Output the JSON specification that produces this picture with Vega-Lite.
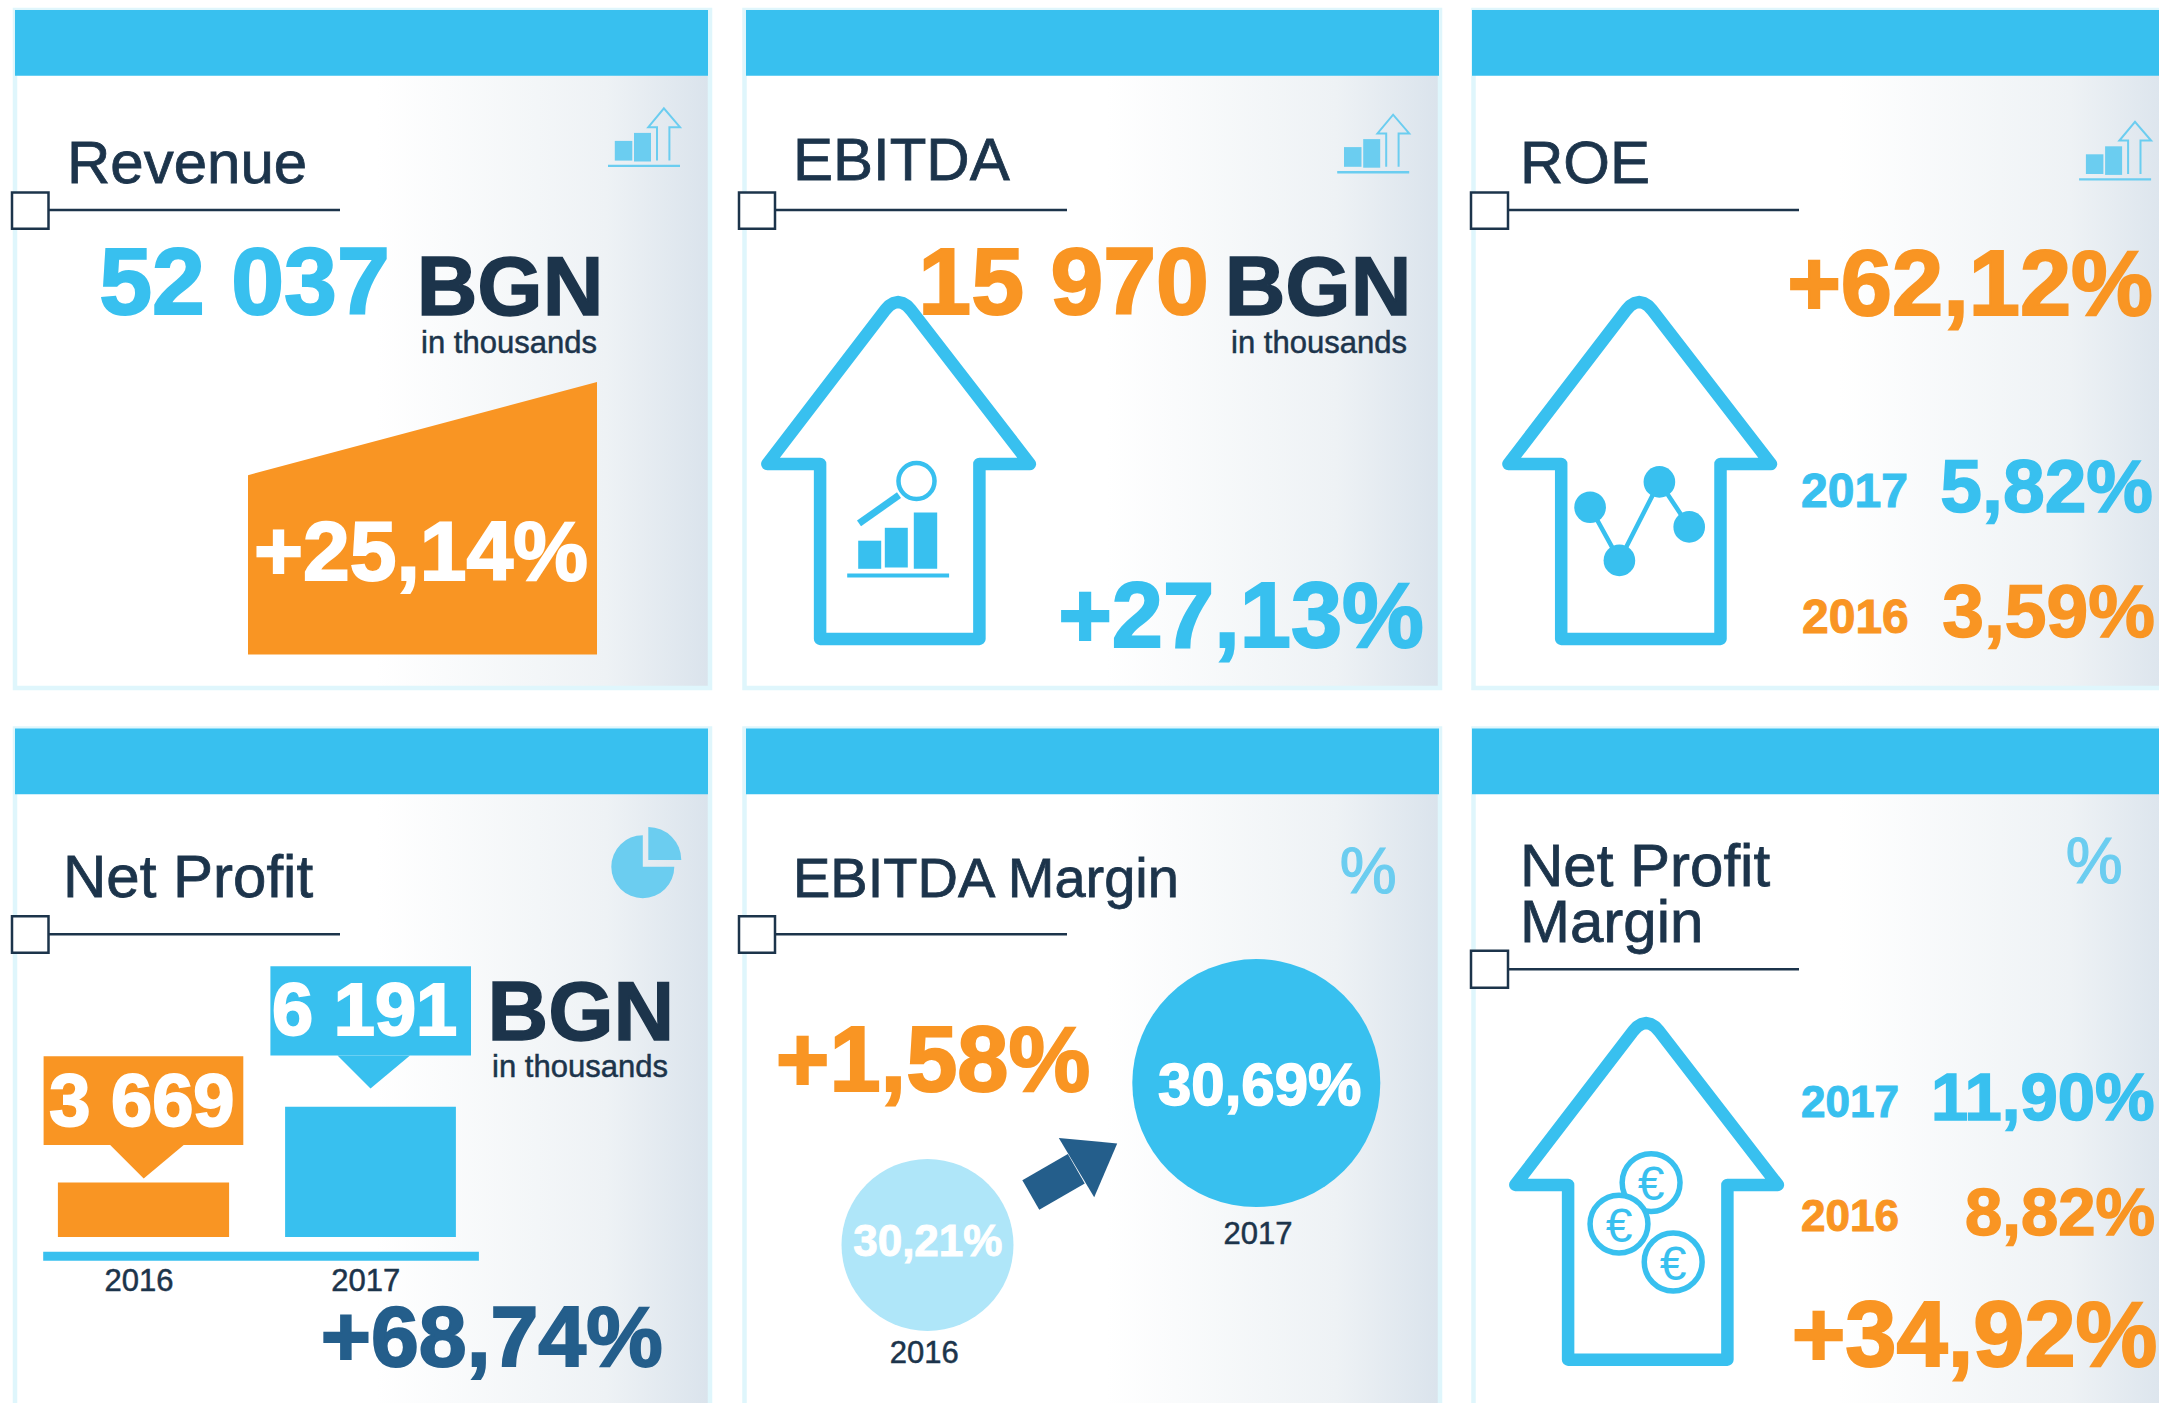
{"$schema":"https://vega.github.io/schema/vega-lite/v6.json","width":2159,"height":1403,"padding":0,"autosize":{"type":"fit","contains":"padding"},"background":"#ffffff","config":{"view":{"stroke":null},"text":{"font":"Liberation Sans"}},
"encoding":{"x":{"field":"x","type":"quantitative","scale":{"domain":[0,2159],"nice":false,"zero":false},"axis":null},"y":{"field":"y","type":"quantitative","scale":{"domain":[1403,0],"nice":false,"zero":false},"axis":null}},
"layer":[
{"data":{"values":[{"panel":"Revenue","x":15,"x2":710,"y":10,"y2":688},{"panel":"EBITDA","x":744.5,"x2":1440,"y":10,"y2":688},{"panel":"ROE","x":1473.5,"x2":2175,"y":10,"y2":688},{"panel":"Net Profit","x":15,"x2":710,"y":728.5,"y2":1425},{"panel":"EBITDA Margin","x":744.5,"x2":1440,"y":728.5,"y2":1425},{"panel":"Net Profit Margin","x":1473.5,"x2":2175,"y":728.5,"y2":1425}]},"mark":{"type":"rect","clip":true,"stroke":"#dff6fc","strokeWidth":4.5,"fill":{"gradient":"linear","x1":0,"y1":0,"x2":1,"y2":0,"stops":[{"offset":0,"color":"#ffffff"},{"offset":0.52,"color":"#ffffff"},{"offset":0.85,"color":"#eef2f5"},{"offset":1,"color":"#dae3ec"}]}},"encoding":{"x2":{"field":"x2"},"y2":{"field":"y2"}}},
{"data":{"values":[{"x":15,"x2":708,"y":10,"y2":75.8},{"x":746,"x2":1439,"y":10,"y2":75.8},{"x":1472,"x2":2175,"y":10,"y2":75.8},{"x":15,"x2":708,"y":728.5,"y2":794.3},{"x":746,"x2":1439,"y":728.5,"y2":794.3},{"x":1472,"x2":2175,"y":728.5,"y2":794.3},{"item":"6 191 box","x":270.4,"x2":471,"y":966.2,"y2":1055.4},{"item":"2017 bar","x":285.1,"x2":455.9,"y":1106.7,"y2":1237},{"item":"axis","x":43.2,"x2":478.9,"y":1251.7,"y2":1260.8},{"x":858.2,"x2":881.2,"y":540.7,"y2":568.8},{"x":884.8,"x2":907.8,"y":527.8,"y2":567.5},{"x":913.8,"x2":937.2,"y":512.6,"y2":568.8},{"x":847.2,"x2":949.1,"y":573.6,"y2":577.5}]},"mark":{"type":"rect","clip":true,"fill":"#38c0ef"},"encoding":{"x2":{"field":"x2"},"y2":{"field":"y2"}}},
{"data":{"values":[{"item":"3 669 box","x":43.6,"x2":243.3,"y":1056.3,"y2":1145.1},{"item":"2016 bar","x":57.9,"x2":229.1,"y":1182.6,"y2":1237}]},"mark":{"type":"rect","fill":"#f99523"},"encoding":{"x2":{"field":"x2"},"y2":{"field":"y2"}}},
{"data":{"values":[{"id":"rev","x":248,"y":475.2,"y2":654.4},{"id":"rev","x":597,"y":381.9,"y2":654.4},{"id":"a","x":110.2,"y":1145.1,"y2":1145.1},{"id":"a","x":143.7,"y":1145.1,"y2":1178.6},{"id":"a","x":183.7,"y":1145.1,"y2":1145.1}]},"mark":{"type":"area","fill":"#f99523","line":false},"encoding":{"y2":{"field":"y2"},"detail":{"field":"id"}}},
{"data":{"values":[{"id":"b","x":337.5,"y":1055.4,"y2":1055.4},{"id":"b","x":370.5,"y":1055.4,"y2":1088.5},{"id":"b","x":410,"y":1055.4,"y2":1055.4}]},"mark":{"type":"area","fill":"#38c0ef"},"encoding":{"y2":{"field":"y2"},"detail":{"field":"id"}}},
{"data":{"values":[{"id":"h","x":1058.8,"y":1138,"y2":1138},{"id":"h","x":1094.2,"y":1141.2,"y2":1197.3},{"id":"h","x":1117.2,"y":1143.4,"y2":1143.4}]},"mark":{"type":"area","fill":"#245e8b"},"encoding":{"y2":{"field":"y2"},"detail":{"field":"id"}}},
{"data":{"values":[{"x":1030.8,"x2":1076.3,"y":1194.9,"y2":1168.8}]},"mark":{"type":"rule","stroke":"#245e8b","strokeWidth":34},"encoding":{"x2":{"field":"x2"},"y2":{"field":"y2"}}},
{"data":{"values":[{"id":"e","o":1,"x":885.2,"y":310},{"id":"e","o":2,"x":889.1,"y":305.8},{"id":"e","o":3,"x":893.6,"y":303},{"id":"e","o":4,"x":898.1,"y":302},{"id":"e","o":5,"x":902.6,"y":303},{"id":"e","o":6,"x":907.1,"y":305.8},{"id":"e","o":7,"x":911,"y":310},{"id":"e","o":8,"x":1029.9,"y":464},{"id":"e","o":9,"x":979.4,"y":464},{"id":"e","o":10,"x":979.4,"y":638.9},{"id":"e","o":11,"x":820.1,"y":638.9},{"id":"e","o":12,"x":820.1,"y":464},{"id":"e","o":13,"x":767.3,"y":464},{"id":"e","o":14,"x":885.2,"y":310},
{"id":"r","o":1,"x":1626.3,"y":310},{"id":"r","o":2,"x":1630.2,"y":305.8},{"id":"r","o":3,"x":1634.7,"y":303},{"id":"r","o":4,"x":1639.2,"y":302},{"id":"r","o":5,"x":1643.7,"y":303},{"id":"r","o":6,"x":1648.2,"y":305.8},{"id":"r","o":7,"x":1652.1,"y":310},{"id":"r","o":8,"x":1771,"y":464},{"id":"r","o":9,"x":1720.5,"y":464},{"id":"r","o":10,"x":1720.5,"y":638.9},{"id":"r","o":11,"x":1561.2,"y":638.9},{"id":"r","o":12,"x":1561.2,"y":464},{"id":"r","o":13,"x":1508.4,"y":464},{"id":"r","o":14,"x":1626.3,"y":310},
{"id":"n","o":1,"x":1633.2,"y":1031},{"id":"n","o":2,"x":1637.1,"y":1026.8},{"id":"n","o":3,"x":1641.6,"y":1024},{"id":"n","o":4,"x":1646.1,"y":1023},{"id":"n","o":5,"x":1650.6,"y":1024},{"id":"n","o":6,"x":1655.1,"y":1026.8},{"id":"n","o":7,"x":1659,"y":1031},{"id":"n","o":8,"x":1777.9,"y":1184.9},{"id":"n","o":9,"x":1727.4,"y":1184.9},{"id":"n","o":10,"x":1727.4,"y":1359.7},{"id":"n","o":11,"x":1568.1,"y":1359.7},{"id":"n","o":12,"x":1568.1,"y":1184.9},{"id":"n","o":13,"x":1515.3,"y":1184.9},{"id":"n","o":14,"x":1633.2,"y":1031}]},"mark":{"type":"line","stroke":"#38c0ef","strokeWidth":12.5,"strokeJoin":"round","strokeCap":"round"},"encoding":{"detail":{"field":"id"},"order":{"field":"o"}}},
{"data":{"values":[{"x":899,"x2":859,"y":495.2,"y2":523.4}]},"mark":{"type":"rule","stroke":"#38c0ef","strokeWidth":7},"encoding":{"x2":{"field":"x2"},"y2":{"field":"y2"}}},
{"data":{"values":[{"x":916.5,"y":481}]},"mark":{"type":"point","shape":"circle","size":1300,"fill":"#ffffff","filled":true,"stroke":"#38c0ef","strokeWidth":4.5,"opacity":1}},
{"data":{"values":[{"o":1,"x":1590.1,"y":507.2},{"o":2,"x":1619.4,"y":560.4},{"o":3,"x":1659.4,"y":481.9},{"o":4,"x":1689.2,"y":526.9}]},"mark":{"type":"line","stroke":"#38c0ef","strokeWidth":4.5},"encoding":{"order":{"field":"o"}}},
{"data":{"values":[{"x":1590.1,"y":507.2},{"x":1619.4,"y":560.4},{"x":1659.4,"y":481.9},{"x":1689.2,"y":526.9}]},"mark":{"type":"point","shape":"circle","size":1000,"filled":true,"fill":"#38c0ef","opacity":1}},
{"data":{"values":[{"x":1651.1,"y":1182.6},{"x":1619,"y":1224.1},{"x":1673.2,"y":1262}]},"mark":{"type":"point","shape":"circle","size":3350,"fill":"#ffffff","filled":true,"stroke":"#38c0ef","strokeWidth":5.5,"opacity":1}},
{"data":{"values":[{"t":"€","x":1651.1,"y":1200.1},{"t":"€","x":1619,"y":1241.6},{"t":"€","x":1673.2,"y":1279.5}]},"mark":{"type":"text","fontSize":48,"align":"center","baseline":"alphabetic","fill":"#38c0ef","font":"Liberation Sans"},"encoding":{"text":{"field":"t"}}},
{"data":{"values":[{"x":1256.3,"y":1083.1}]},"mark":{"type":"point","shape":"circle","size":61504,"filled":true,"fill":"#38c0ef","opacity":1}},
{"data":{"values":[{"x":927.5,"y":1245}]},"mark":{"type":"point","shape":"circle","size":29584,"filled":true,"fill":"#afe6f9","opacity":1}},
{"data":{"values":[{"x":614.8,"x2":632.3,"y":140.9,"y2":160.6},{"x":634,"x2":651,"y":132.9,"y2":161.5},{"x":608,"x2":680,"y":164.8,"y2":167.1},{"x":1344,"x2":1361.5,"y":147.1,"y2":166.8},{"x":1363.2,"x2":1380.2,"y":139.1,"y2":167.7},{"x":1337.2,"x2":1409.2,"y":171,"y2":173.4},{"x":2085.9,"x2":2103.4,"y":154.3,"y2":174},{"x":2105.1,"x2":2122.1,"y":146.3,"y2":174.9},{"x":2079.1,"x2":2151.1,"y":178.2,"y2":180.5}]},"mark":{"type":"rect","fill":"#6bcdf0"},"encoding":{"x2":{"field":"x2"},"y2":{"field":"y2"}}},
{"data":{"values":[{"id":1,"o":1,"x":657,"y":160.6},{"id":1,"o":2,"x":657,"y":127.2},{"id":1,"o":3,"x":648.3,"y":127.2},{"id":1,"o":4,"x":663.9,"y":108.4},{"id":1,"o":5,"x":680,"y":127.2},{"id":1,"o":6,"x":669.4,"y":127.2},{"id":1,"o":7,"x":669.4,"y":160.6},{"id":2,"o":1,"x":1386.2,"y":166.8},{"id":2,"o":2,"x":1386.2,"y":133.4},{"id":2,"o":3,"x":1377.5,"y":133.4},{"id":2,"o":4,"x":1393.1,"y":114.7},{"id":2,"o":5,"x":1409.2,"y":133.4},{"id":2,"o":6,"x":1398.6,"y":133.4},{"id":2,"o":7,"x":1398.6,"y":166.8},{"id":3,"o":1,"x":2128.1,"y":174},{"id":3,"o":2,"x":2128.1,"y":140.6},{"id":3,"o":3,"x":2119.4,"y":140.6},{"id":3,"o":4,"x":2135,"y":121.9},{"id":3,"o":5,"x":2151.1,"y":140.6},{"id":3,"o":6,"x":2140.5,"y":140.6},{"id":3,"o":7,"x":2140.5,"y":174}]},"mark":{"type":"line","stroke":"#6bcdf0","strokeWidth":2},"encoding":{"detail":{"field":"id"},"order":{"field":"o"}}},
{"data":{"values":[{"x":642.8,"y":866.7}]},"mark":{"type":"arc","theta":1.5708,"theta2":6.2832,"innerRadius":0,"outerRadius":31.5,"fill":"#6bcdf0"}},
{"data":{"values":[{"x":648.3,"y":860}]},"mark":{"type":"arc","theta":0,"theta2":1.5708,"innerRadius":0,"outerRadius":33,"fill":"#6bcdf0"}},
{"data":{"values":[{"t":"%","x":1368.3,"y":873.8},{"t":"%","x":2094.2,"y":863.6}]},"mark":{"type":"text","fontSize":64,"align":"center","baseline":"middle","fill":"#6bcdf0","stroke":"#6bcdf0","strokeWidth":1.2,"font":"Liberation Sans"},"encoding":{"text":{"field":"t"}}},
{"data":{"values":[{"x":48,"x2":340,"y":209.9,"y2":209.9},{"x":775,"x2":1067,"y":209.9,"y2":209.9},{"x":1508,"x2":1799,"y":209.9,"y2":209.9},{"x":48,"x2":340,"y":934.3,"y2":934.3},{"x":775,"x2":1067,"y":934.3,"y2":934.3},{"x":1508,"x2":1799,"y":969.3,"y2":969.3}]},"mark":{"type":"rule","stroke":"#1c344b","strokeWidth":2.5},"encoding":{"x2":{"field":"x2"},"y2":{"field":"y2"}}},
{"data":{"values":[{"x":12,"x2":48.5,"y":192.4,"y2":228.8},{"x":739,"x2":775,"y":192.4,"y2":228.8},{"x":1471,"x2":1508,"y":192.4,"y2":228.8},{"x":12,"x2":48.5,"y":916.3,"y2":952.7},{"x":739,"x2":775,"y":916.3,"y2":952.7},{"x":1471,"x2":1508,"y":950.8,"y2":987.7}]},"mark":{"type":"rect","fill":"#ffffff","stroke":"#1c344b","strokeWidth":2.5},"encoding":{"x2":{"field":"x2"},"y2":{"field":"y2"}}},
{"data":{"values":[{"t":"Revenue","x":67,"y":182.7},{"t":"EBITDA","x":793,"y":179.8},{"t":"ROE","x":1520,"y":182.7},{"t":"Net Profit","x":63,"y":897.4},{"t":"Net Profit","x":1520,"y":885.7},{"t":"Margin","x":1520,"y":942}]},"mark":{"type":"text","fontSize":60,"align":"left","baseline":"alphabetic","fill":"#1c344b","stroke":"#1c344b","strokeWidth":0.8,"font":"Liberation Sans"},"encoding":{"text":{"field":"t"}}},
{"data":{"values":[{"t":"EBITDA Margin","x":793,"y":897.4}]},"mark":{"type":"text","fontSize":56,"align":"left","baseline":"alphabetic","fill":"#1c344b","stroke":"#1c344b","strokeWidth":0.8,"font":"Liberation Sans"},"encoding":{"text":{"field":"t"}}},
{"data":{"values":[{"t":"in thousands","x":509,"y":352.7},{"t":"in thousands","x":1319,"y":352.7},{"t":"in thousands","x":580,"y":1076.9},{"t":"2016","x":139,"y":1290.9},{"t":"2017","x":365.7,"y":1290.9},{"t":"2017","x":1258,"y":1244.2},{"t":"2016","x":924.3,"y":1363.3}]},"mark":{"type":"text","fontSize":31,"align":"center","baseline":"alphabetic","fill":"#1c344b","stroke":"#1c344b","strokeWidth":0.5,"font":"Liberation Sans"},"encoding":{"text":{"field":"t"}}},
{"data":{"values":[{"t":"BGN","x":510,"y":314.8},{"t":"BGN","x":1318,"y":314.8},{"t":"BGN","x":580.8,"y":1039.8}]},"mark":{"type":"text","fontSize":84,"fontWeight":"bold","align":"center","baseline":"alphabetic","fill":"#1c344b","stroke":"#1c344b","strokeWidth":1.5,"font":"Liberation Sans"},"encoding":{"text":{"field":"t"}}},
{"data":{"values":[{"t":"52 037","x":244.5,"y":313.9}]},"mark":{"type":"text","fontSize":95,"fontWeight":"bold","align":"center","baseline":"alphabetic","fill":"#38c0ef","stroke":"#38c0ef","strokeWidth":2,"font":"Liberation Sans"},"encoding":{"text":{"field":"t"}}},
{"data":{"values":[{"t":"15 970","x":1063.6,"y":313.9}]},"mark":{"type":"text","fontSize":95,"fontWeight":"bold","align":"center","baseline":"alphabetic","fill":"#f99523","stroke":"#f99523","strokeWidth":2,"font":"Liberation Sans"},"encoding":{"text":{"field":"t"}}},
{"data":{"values":[{"t":"+25,14%","x":421,"y":580.1}]},"mark":{"type":"text","fontSize":84,"fontWeight":"bold","align":"center","baseline":"alphabetic","fill":"#ffffff","stroke":"#ffffff","strokeWidth":2,"font":"Liberation Sans"},"encoding":{"text":{"field":"t"}}},
{"data":{"values":[{"t":"+27,13%","x":1241,"y":647.2}]},"mark":{"type":"text","fontSize":92,"fontWeight":"bold","align":"center","baseline":"alphabetic","fill":"#38c0ef","stroke":"#38c0ef","strokeWidth":2,"font":"Liberation Sans"},"encoding":{"text":{"field":"t"}}},
{"data":{"values":[{"t":"+62,12%","x":1970,"y":314.5},{"t":"+1,58%","x":933,"y":1091.1},{"t":"+34,92%","x":1974.5,"y":1365.5}]},"mark":{"type":"text","fontSize":92,"fontWeight":"bold","align":"center","baseline":"alphabetic","fill":"#f99523","stroke":"#f99523","strokeWidth":2,"font":"Liberation Sans"},"encoding":{"text":{"field":"t"}}},
{"data":{"values":[{"t":"+68,74%","x":491.7,"y":1365.5}]},"mark":{"type":"text","fontSize":86,"fontWeight":"bold","align":"center","baseline":"alphabetic","fill":"#245e8b","stroke":"#245e8b","strokeWidth":2,"font":"Liberation Sans"},"encoding":{"text":{"field":"t"}}},
{"data":{"values":[{"t":"5,82%","x":2046.7,"y":512.1}]},"mark":{"type":"text","fontSize":75,"fontWeight":"bold","align":"center","baseline":"alphabetic","fill":"#38c0ef","stroke":"#38c0ef","strokeWidth":1.5,"font":"Liberation Sans"},"encoding":{"text":{"field":"t"}}},
{"data":{"values":[{"t":"3,59%","x":2048.5,"y":637}]},"mark":{"type":"text","fontSize":75,"fontWeight":"bold","align":"center","baseline":"alphabetic","fill":"#f99523","stroke":"#f99523","strokeWidth":1.5,"font":"Liberation Sans"},"encoding":{"text":{"field":"t"}}},
{"data":{"values":[{"t":"11,90%","x":2042.8,"y":1120.2}]},"mark":{"type":"text","fontSize":67,"fontWeight":"bold","align":"center","baseline":"alphabetic","fill":"#38c0ef","stroke":"#38c0ef","strokeWidth":1.5,"font":"Liberation Sans"},"encoding":{"text":{"field":"t"}}},
{"data":{"values":[{"t":"8,82%","x":2060,"y":1234.8}]},"mark":{"type":"text","fontSize":67,"fontWeight":"bold","align":"center","baseline":"alphabetic","fill":"#f99523","stroke":"#f99523","strokeWidth":1.5,"font":"Liberation Sans"},"encoding":{"text":{"field":"t"}}},
{"data":{"values":[{"t":"3 669","x":141.9,"y":1126},{"t":"6 191","x":364.6,"y":1035.3}]},"mark":{"type":"text","fontSize":74,"fontWeight":"bold","align":"center","baseline":"alphabetic","fill":"#ffffff","stroke":"#ffffff","strokeWidth":2,"font":"Liberation Sans"},"encoding":{"text":{"field":"t"}}},
{"data":{"values":[{"t":"30,69%","x":1259.7,"y":1104.5}]},"mark":{"type":"text","fontSize":60,"fontWeight":"bold","align":"center","baseline":"alphabetic","fill":"#ffffff","stroke":"#ffffff","strokeWidth":1.5,"font":"Liberation Sans"},"encoding":{"text":{"field":"t"}}},
{"data":{"values":[{"t":"30,21%","x":927.8,"y":1256.2}]},"mark":{"type":"text","fontSize":44,"fontWeight":"bold","align":"center","baseline":"alphabetic","fill":"#ffffff","stroke":"#ffffff","strokeWidth":1,"font":"Liberation Sans"},"encoding":{"text":{"field":"t"}}},
{"data":{"values":[{"t":"2017","x":1854.5,"y":507.2}]},"mark":{"type":"text","fontSize":48,"fontWeight":"bold","align":"center","baseline":"alphabetic","fill":"#38c0ef","stroke":"#38c0ef","strokeWidth":1,"font":"Liberation Sans"},"encoding":{"text":{"field":"t"}}},
{"data":{"values":[{"t":"2016","x":1855.4,"y":632.6}]},"mark":{"type":"text","fontSize":48,"fontWeight":"bold","align":"center","baseline":"alphabetic","fill":"#f99523","stroke":"#f99523","strokeWidth":1,"font":"Liberation Sans"},"encoding":{"text":{"field":"t"}}},
{"data":{"values":[{"t":"2017","x":1850,"y":1116.9}]},"mark":{"type":"text","fontSize":44,"fontWeight":"bold","align":"center","baseline":"alphabetic","fill":"#38c0ef","stroke":"#38c0ef","strokeWidth":1,"font":"Liberation Sans"},"encoding":{"text":{"field":"t"}}},
{"data":{"values":[{"t":"2016","x":1850,"y":1230.6}]},"mark":{"type":"text","fontSize":44,"fontWeight":"bold","align":"center","baseline":"alphabetic","fill":"#f99523","stroke":"#f99523","strokeWidth":1,"font":"Liberation Sans"},"encoding":{"text":{"field":"t"}}}
]}
